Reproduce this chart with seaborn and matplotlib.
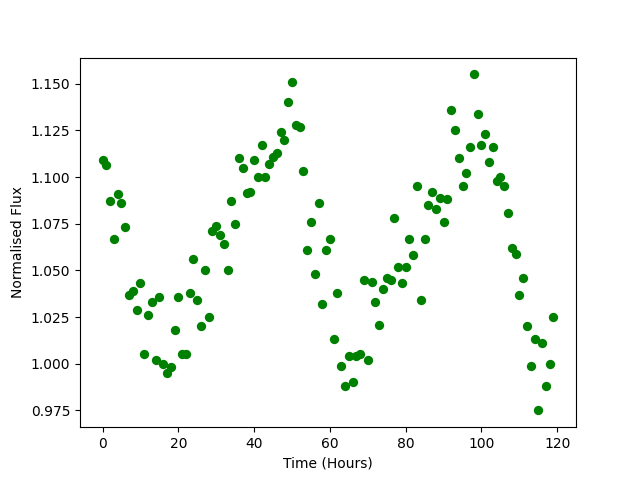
import numpy as np
import pandas as pd
import matplotlib
matplotlib.use('Agg')
import matplotlib.pyplot as plt
import seaborn as sns

hours = np.arange(120)
flux = [1.109, 1.1065, 1.087, 1.067, 1.091, 1.086, 1.073, 1.037, 1.039, 1.029,
        1.043, 1.005, 1.026, 1.033, 1.002, 1.036, 1.000, 0.995, 0.998, 1.018,
        1.036, 1.005, 1.005, 1.038, 1.056, 1.034, 1.020, 1.050, 1.025, 1.071,
        1.074, 1.069, 1.064, 1.050, 1.087, 1.075, 1.110, 1.105, 1.0915, 1.092,
        1.109, 1.100, 1.117, 1.100, 1.107, 1.111, 1.113, 1.124, 1.120, 1.140,
        1.151, 1.128, 1.127, 1.103, 1.061, 1.076, 1.048, 1.086, 1.032, 1.061,
        1.067, 1.013, 1.038, 0.999, 0.988, 1.004, 0.990, 1.004, 1.005, 1.045,
        1.002, 1.044, 1.033, 1.021, 1.040, 1.046, 1.045, 1.078, 1.052, 1.043,
        1.052, 1.067, 1.058, 1.095, 1.034, 1.067, 1.085, 1.092, 1.083, 1.089,
        1.076, 1.088, 1.136, 1.125, 1.110, 1.095, 1.102, 1.116, 1.155, 1.134,
        1.117, 1.123, 1.108, 1.116, 1.098, 1.100, 1.095, 1.081, 1.062, 1.059,
        1.037, 1.046, 1.020, 0.999, 1.013, 0.975, 1.011, 0.988, 1.000, 1.025]

df = pd.DataFrame({'hours': hours, 'flux': flux})

fig, ax = plt.subplots(figsize=(6.4, 4.8), dpi=100)
sns.scatterplot(x='hours', y='flux', data=df, color='green', s=45, linewidth=0, ax=ax)
ax.set_xlabel('Time (Hours)')
ax.set_ylabel('Normalised Flux')
ax.yaxis.set_major_formatter(matplotlib.ticker.FormatStrFormatter('%.3f'))

plt.savefig('out.png')
